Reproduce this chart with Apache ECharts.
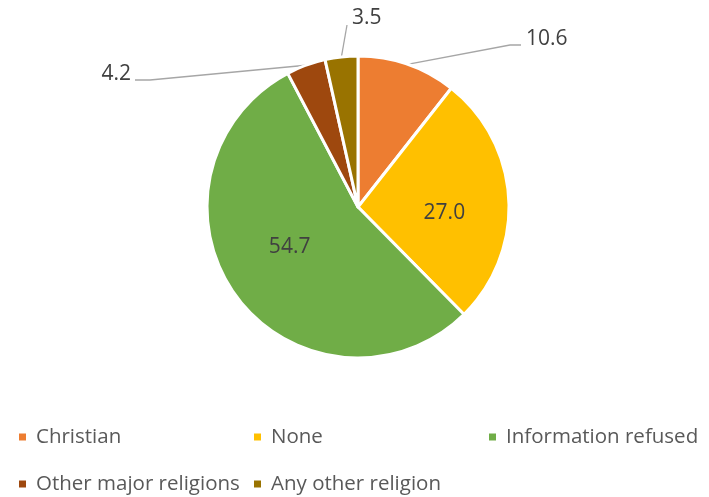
<!DOCTYPE html>
<html>
<head>
<meta charset="utf-8">
<script src="https://cdn.jsdelivr.net/npm/echarts@6/dist/echarts.min.js"></script>
<style>
  html, body { margin: 0; padding: 0; background: #ffffff; }
  #chart { width: 709px; height: 497px; }
</style>
</head>
<body>
<div id="chart"></div>
<script>
// Religion breakdown (percent)
const categories = ['Christian', 'None', 'Information refused', 'Other major religions', 'Any other religion'];
const shares = [10.6, 27.0, 54.7, 4.2, 3.5];
const colors = ['#ED7D31', '#FFC000', '#70AD47', '#9E480E', '#997300'];
// slices whose value sits outside the pie with a leader line
const outsideLabels = [true, false, false, true, true];

// placement of the outside value labels and their leader-line bends
const calloutPlacement = {
  0: { x: 526, y: 39, align: 'left', bends: [[510, 45], [521, 45]] },
  3: { x: 131, y: 74, align: 'right', bends: [[150, 80], [135, 80]] },
  4: { x: 352, y: 18, align: 'left', bends: [[347, 25]] }
};
// small nudges for the value labels drawn inside the slices
const insideNudge = {
  1: [8, 10],
  2: [-5, -6]
};

// legend grid: column / row of each entry
const legendCols = [0, 1, 2, 0, 1];
const legendRows = [0, 0, 0, 1, 1];

const FONT = "'Open Sans', 'Liberation Sans', sans-serif";

const chart = echarts.init(document.getElementById('chart'), null, { renderer: 'canvas' });

const pieData = categories.map((name, i) => ({
  name: name,
  value: shares[i],
  itemStyle: { color: colors[i] },
  label: { position: outsideLabels[i] ? 'outside' : 'inside' },
  labelLine: { show: outsideLabels[i] }
}));

const legends = categories.map((name, i) => ({
  data: [name],
  left: 17 + legendCols[i] * 235,
  top: 425 + legendRows[i] * 47,
  orient: 'horizontal',
  icon: 'rect',
  itemWidth: 9,
  itemHeight: 9,
  padding: 0,
  selectedMode: false,
  textStyle: {
    fontFamily: FONT,
    fontSize: 20.5,
    lineHeight: 24,
    color: '#595959',
    padding: [0, 0, 0, 4]
  }
}));

chart.setOption({
  animation: false,
  backgroundColor: '#ffffff',
  legend: legends,
  series: [{
    type: 'pie',
    center: [358, 207],
    radius: 151,
    startAngle: 90,
    clockwise: true,
    avoidLabelOverlap: false,
    itemStyle: { borderColor: '#ffffff', borderWidth: 3 },
    label: {
      show: true,
      fontFamily: FONT,
      fontSize: 21,
      color: '#404040',
      formatter: p => p.value.toFixed(1)
    },
    labelLine: {
      length: 20,
      length2: 10,
      lineStyle: { color: '#A6A6A6', width: 1.3 }
    },
    labelLayout: function (params) {
      const nudge = insideNudge[params.dataIndex];
      if (nudge) return { dx: nudge[0], dy: nudge[1] };
      const place = calloutPlacement[params.dataIndex];
      if (!place) return {};
      const out = { x: place.x, y: place.y, align: place.align, verticalAlign: 'middle' };
      if (params.labelLinePoints && params.labelLinePoints.length) {
        out.labelLinePoints = [params.labelLinePoints[0]].concat(place.bends);
      }
      return out;
    },
    emphasis: { disabled: true },
    data: pieData
  }]
});
</script>
</body>
</html>
